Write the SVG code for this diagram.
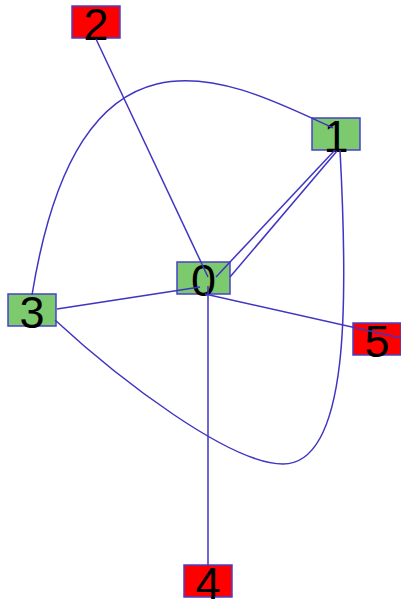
<svg xmlns="http://www.w3.org/2000/svg" width="401" height="603" viewBox="0 0 401 603">
<style>
.g{fill:#7dc96e;stroke:#4a40c8;stroke-width:1.5}
.r{fill:#ff0000;stroke:#4a40c8;stroke-width:1.5}
.t{font-family:"Liberation Sans",Arial,sans-serif;font-size:45px;fill:#000;text-anchor:middle}
.e{fill:none;stroke:#3f35c2;stroke-width:1.5}
</style>
<rect width="401" height="603" fill="#fff"/>
<g id="node2"><rect class="r" x="72" y="6" width="48" height="32"/><text class="t" x="96" y="40">2</text></g>
<g id="node1"><rect class="g" x="312" y="118" width="48" height="32"/><text class="t" x="336" y="152">1</text></g>
<g id="node0"><rect class="g" x="177" y="262" width="53" height="32"/><text class="t" x="203.5" y="296">0</text></g>
<g id="node3"><rect class="g" x="8" y="294" width="48" height="32"/><text class="t" x="32" y="328">3</text></g>
<g id="node5"><rect class="r" x="353" y="323" width="48" height="32"/><text class="t" x="377" y="357">5</text></g>
<g id="node4"><rect class="r" x="184" y="565" width="48" height="32"/><text class="t" x="208" y="599">4</text></g>
<g id="edges">
<path class="e" d="M96,39 L208,277"/>
<path class="e" d="M216,277 L335,150"/>
<path class="e" d="M230,277 L337,151"/>
<path class="e" d="M333,128 C230,80 80,0 32,295"/>
<path class="e" d="M57,309 L200,287"/>
<path class="e" d="M205,294 L401,338"/>
<path class="e" d="M208,286 L208,565"/>
<path class="e" d="M340,150 C348,300 350,464 283,464 C230,464 120,380 55,320"/>
</g>
</svg>
